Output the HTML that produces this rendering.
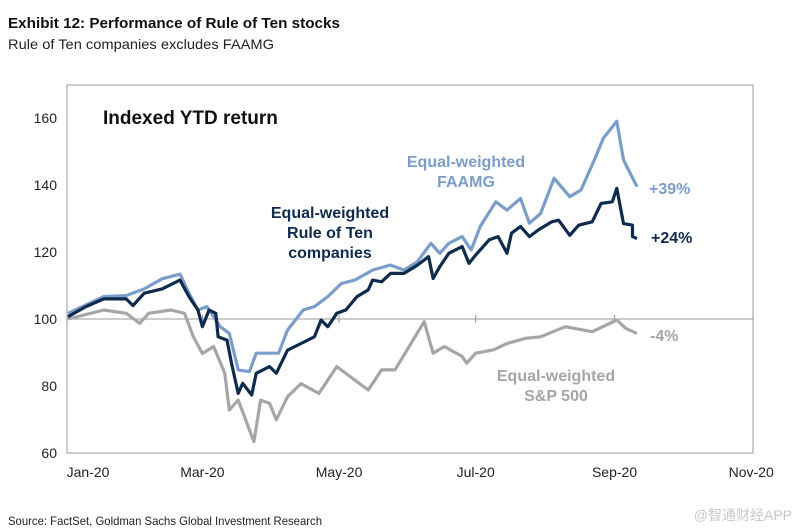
<!DOCTYPE html>
<html><head><meta charset="utf-8"><style>
html,body{margin:0;padding:0;background:#fff;}
svg{display:block;font-family:"Liberation Sans",Arial,"Noto Sans CJK SC",sans-serif;}
</style></head><body>
<svg id="chart" width="800" height="532" viewBox="0 0 800 532">
<text x="8" y="28" font-size="15" font-weight="bold" fill="#111" textLength="332" lengthAdjust="spacingAndGlyphs">Exhibit 12: Performance of Rule of Ten stocks</text>
<text x="8" y="49" font-size="14" fill="#222" textLength="266" lengthAdjust="spacingAndGlyphs">Rule of Ten companies excludes FAAMG</text>
<rect x="67" y="85" width="686" height="368" fill="none" stroke="#9a9a9a" stroke-width="1"/>
<g id="yaxis"></g>
<g id="xaxis"></g>
<g id="series"></g>
<text x="103" y="124" font-size="19" font-weight="bold" fill="#111">Indexed YTD return</text>
<g font-weight="bold" font-size="16" text-anchor="middle">
<text x="466" y="167" fill="#7b9dc9">Equal-weighted</text>
<text x="466" y="187" fill="#7b9dc9">FAAMG</text>
<text x="330" y="218" fill="#0e2a4d">Equal-weighted</text>
<text x="330" y="238" fill="#0e2a4d">Rule of Ten</text>
<text x="330" y="258" fill="#0e2a4d">companies</text>
<text x="556" y="381" fill="#a6a6a6">Equal-weighted</text>
<text x="556" y="401" fill="#a6a6a6">S&amp;P 500</text>
<text x="649" y="194" fill="#7b9dc9" text-anchor="start">+39%</text>
<text x="651" y="243" fill="#0e2a4d" text-anchor="start">+24%</text>
<text x="650" y="341" fill="#a6a6a6" text-anchor="start">-4%</text>
</g>
<text x="8" y="525" font-size="12" fill="#222" textLength="314" lengthAdjust="spacingAndGlyphs">Source: FactSet, Goldman Sachs Global Investment Research</text>
<text x="792" y="520" font-size="14" fill="#c8c8c8" text-anchor="end">@智通财经APP</text>
</svg>
<script>
const yTicks=[60,80,100,120,140,160];
const xTickDays=[0,60,121,182,244,305];
const xTickLabels=["Jan-20","Mar-20","May-20","Jul-20","Sep-20","Nov-20"];
const ruleDays=[0,8,16,26,29,34,42,50,54,58,60,63,66,67,71,73,76,78,82,84,90,93,98,104,110,113,116,120,124,129,134,136,140,144,150,156,161,163,166,170,176,179,182,188,192,196,198,202,206,210,216,219,224,228,234,238,243,245,248,252,252,254];
const ruleVals=[100.7,103.7,106,106,104,107.7,109,111.6,106.7,102.7,97.7,102.7,101.7,94.7,93.7,86.8,77.8,80.8,77.3,83.8,85.8,83.8,90.7,92.7,94.7,99.7,97.7,101.7,102.7,106.7,108.7,111.6,111.1,113.6,113.6,116.1,118.6,112.1,115.6,119.6,121.6,116.6,119.1,123.6,124.6,119.6,125.6,127.6,124.6,126.6,129,129.5,125,128,129,134.5,135,139,128.5,128,124.6,124];
const faamgDays=[0,16,26,34,42,50,54,58,62,68,72,76,81,84,90,94,98,105,110,116,122,128,136,144,150,156,162,166,170,176,180,184,191,196,202,206,211,217,224,229,235,239,245,248,251,254];
const faamgVals=[101.7,106.7,107,109,112,113.4,107.7,102.7,103.7,97.7,95.7,84.8,84.3,89.8,89.8,89.8,96.7,102.7,103.7,106.7,110.6,111.6,114.6,116.1,114.6,117.1,122.6,119.6,122.6,124.6,120.6,127.6,135,132.5,136,128.6,131.5,142,136.5,138.5,147.5,154,159,147.5,143.5,139.5];
const spDays=[0,16,26,32,36,46,52,56,60,65,70,72,76,83,86,90,93,98,104,112,120,128,134,140,146,154,159,163,168,176,178,182,190,196,204,211,222,234,245,249,254];
const spVals=[100,102.7,101.7,98.7,101.7,102.7,101.7,94.7,89.7,91.8,83.8,72.8,75.8,63.4,75.8,74.8,69.9,76.8,80.7,77.8,85.8,81.8,78.8,84.8,84.8,93.7,99.2,89.8,91.8,88.8,86.8,89.8,90.8,92.7,94.2,94.7,97.7,96.2,99.7,97.2,95.7];

const NS="http://www.w3.org/2000/svg";
function xs(d){return 68+d*2.24;}
function ys(v){return 319-(v-100)*67/20;}
function mk(tag,attrs,parent){const e=document.createElementNS(NS,tag);for(const k in attrs)e.setAttribute(k,attrs[k]);parent.appendChild(e);return e;}
const ya=document.getElementById('yaxis');
yTicks.forEach(v=>{
  const t=mk('text',{x:57,y:ys(v)+5,'font-size':14,fill:'#222','text-anchor':'end'},ya);
  
  
  t.textContent=v;
});
const base=mk('line',{x1:67,x2:753,y1:ys(100),y2:ys(100),stroke:'#9a9a9a','stroke-width':1},ya);


const xa=document.getElementById('xaxis');
xTickDays.forEach((d,i)=>{
  let cx=xs(d); if(i===0) cx=88;
  const t=mk('text',{x:cx,y:477,'font-size':14,fill:'#222','text-anchor':'middle'},xa);
  
  
  t.textContent=xTickLabels[i];
  if(i>0&&i<5){const tk=mk('line',{x1:xs(d),x2:xs(d),y1:ys(100)-4,y2:ys(100)+4,stroke:'#9a9a9a'},xa);
  
  }
});
const sg=document.getElementById('series');
function line(days,vals,color,name){
  const p=days.map((d,i)=>(i?'L':'M')+xs(d).toFixed(1)+','+ys(vals[i]).toFixed(1)).join('');
  const e=mk('path',{d:p,fill:'none',stroke:color,'stroke-width':3.2,'stroke-linejoin':'round'},sg);
  
  
}
line(spDays,spVals,'#a6a6a6','sp500-line');
line(faamgDays,faamgVals,'#7b9dc9','faamg-line');
line(ruleDays,ruleVals,'#0e2a4d','rule-of-ten-line');
</script>
</body></html>
